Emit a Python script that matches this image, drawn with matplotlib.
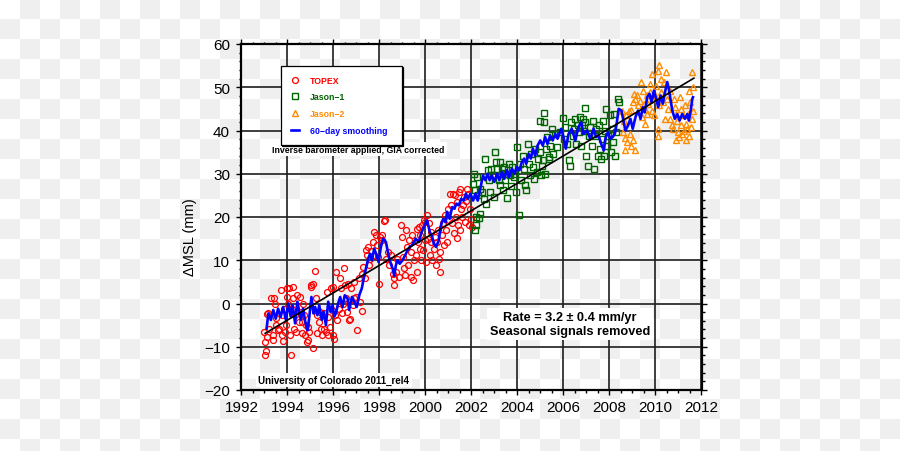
import numpy as np
import matplotlib
matplotlib.use("Agg")
import matplotlib.pyplot as plt
from matplotlib.lines import Line2D

plt.rcParams['font.family'] = ['Liberation Sans', 'DejaVu Sans']

# ---------------- data ----------------
topex_year = [1992.99, 1993.01, 1993.06, 1993.03, 1993.09, 1993.13, 1993.17, 1993.20, 1993.28, 1993.35,
              1993.38, 1993.42, 1993.46, 1993.49, 1993.52, 1993.57, 1993.64, 1993.71, 1993.75, 1993.78,
              1993.81, 1993.86, 1993.90, 1993.93, 1993.96, 1994.00, 1994.04, 1994.07, 1994.12, 1994.14,
              1994.19, 1994.22, 1994.26, 1994.29, 1994.33, 1994.36, 1994.43, 1994.48, 1994.54, 1994.58,
              1994.62, 1994.65, 1994.68, 1994.72, 1994.77, 1994.80, 1994.84, 1994.87, 1994.91, 1994.94,
              1995.01, 1995.04, 1995.09, 1995.13, 1995.20, 1995.23, 1995.28, 1995.30, 1995.35, 1995.41,
              1995.45, 1995.52, 1995.57, 1995.59, 1995.67, 1995.70, 1995.74, 1995.78, 1995.84, 1995.88,
              1995.93, 1995.96, 1995.99, 1996.03, 1996.07, 1996.13, 1996.17, 1996.22, 1996.28, 1996.32,
              1996.36, 1996.42, 1996.46, 1996.51, 1996.54, 1996.58, 1996.62, 1996.68, 1996.72, 1996.77,
              1996.83, 1996.87, 1996.91, 1996.97, 1997.04, 1997.09, 1997.16, 1997.23, 1997.26, 1997.30,
              1997.36, 1997.41, 1997.45, 1997.51, 1997.55, 1997.59, 1997.65, 1997.70, 1997.74, 1997.78,
              1997.84, 1997.88, 1997.94, 1997.99, 1998.03, 1998.09, 1998.13, 1998.20, 1998.25, 1998.28,
              1998.35, 1998.42, 1998.49, 1998.57, 1998.61, 1998.65, 1998.71, 1998.78, 1998.86,
              1998.92, 1998.99, 1999.03, 1999.06, 1999.13, 1999.17, 1999.21, 1999.23, 1999.28, 1999.35,
              1999.38, 1999.42, 1999.47, 1999.49, 1999.57, 1999.61, 1999.64, 1999.67, 1999.71, 1999.75,
              1999.78, 1999.81, 1999.86, 1999.90, 1999.93, 1999.96, 2000.00, 2000.04, 2000.07, 2000.10,
              2000.14, 2000.19, 2000.22, 2000.26, 2000.30, 2000.36, 2000.40, 2000.45, 2000.51, 2000.55,
              2000.59, 2000.63, 2000.65, 2000.72, 2000.77, 2000.79, 2000.84, 2000.88, 2000.94, 2000.98,
              2001.03, 2001.08, 2001.11, 2001.16, 2001.20, 2001.23, 2001.27, 2001.33, 2001.36, 2001.37,
              2001.40, 2001.45, 2001.49, 2001.52, 2001.56, 2001.59, 2001.63, 2001.66, 2001.71, 2001.75,
              2001.81, 2001.85, 2001.89, 2001.95, 2001.98, 2002.02]
topex_msl = [-6.7, -9.0, -11.0, -11.9, -7.7, -2.5, -2.1, -5.8, 1.2, -7.3,
             -8.5, 1.2, 0.0, -5.0, -3.3, -6.2, -5.8, 3.1, -7.3, -2.7,
             -8.7, -1.2, -6.5, -5.0, 1.5, 3.5, 0.0, 3.6, -7.3, -11.9,
             -1.2, 3.8, 1.2, -5.8, -2.7, -6.5, 1.9, -4.2, 1.5, -1.9,
             -6.9, -4.2, 0.0, -2.7, -7.3, -5.0, -8.8, -8.5, -5.4, -6.5,
             4.2, 3.8, 4.6, -10.2, 7.5, 1.2, -2.7, -6.9, -4.2, -1.9,
             -5.8, -7.3, -2.3, -5.8, -6.5, 2.7, -3.1, -7.3, -5.4, 3.5,
             -1.5, 3.8, -7.3, -8.1, -2.7, 7.3, -3.8, -1.2, 5.8, 3.5,
             -2.3, 0.0, 8.2, 4.2, 1.2, -1.9, 4.6, -3.8, -3.5, 3.5,
             -0.4, 1.2, 5.0, 1.5, -6.2, 5.8, 0.4, -1.8, 6.9, 8.5,
             5.8, 12.3, 11.2, 13.1, 8.8, 10.4, 12.1, 14.2, 16.5, 11.2,
             15.8, 13.5, 10.8, 4.6, 15.4, 15.9, 14.6, 19.0, 19.2, 10.4,
             11.9, 8.8, 11.2, 6.9, 4.2, 5.8, 7.3, 10.4, 6.2,
             18.1, 15.4, 10.8, 8.1, 6.5, 16.9, 13.1, 8.8, 14.6, 11.9,
             6.2, 15.8, 5.4, 10.0, 11.2, 17.3, 7.3, 14.2, 17.7, 12.7,
             15.8, 10.0, 18.1, 12.3, 19.2, 14.6, 18.8, 9.6, 20.4, 15.0,
             18.5, 11.2, 14.2, 16.5, 10.0, 12.7, 15.4, 8.8, 14.2, 16.9,
             10.4, 7.2, 11.9, 15.8, 18.5, 13.5, 20.4, 16.9, 14.2, 21.9,
             19.2, 25.4, 22.7, 18.5, 25.4, 16.2, 25.0, 20.0, 15.1, 23.5,
             18.1, 25.8, 26.5, 16.9, 21.9, 20.0, 22.7, 24.6, 18.8, 23.8,
             26.5, 25.4, 18.1, 21.9, 19.6, 17.7]

jason1_year = [2002.10, 2002.24, 2002.07, 2002.17, 2002.36, 2002.27, 2002.21, 2002.38, 2002.18, 2002.15,
               2002.33, 2002.46, 2002.56, 2002.64, 2002.60, 2002.70, 2002.75, 2002.82, 2002.85, 2002.93,
               2002.96, 2003.03, 2003.08, 2003.11, 2003.18, 2003.22, 2003.25, 2003.32, 2003.37, 2003.42,
               2003.47, 2003.51, 2003.54, 2003.61, 2003.66, 2003.71, 2003.77, 2003.83, 2003.90, 2003.95,
               2004.00, 2004.06, 2004.12, 2004.16, 2004.23, 2004.29, 2004.34, 2004.38, 2004.44, 2004.48,
               2004.55, 2004.60, 2004.67, 2004.73, 2004.77, 2004.84, 2004.88, 2004.96, 2004.99, 2005.01,
               2005.06, 2005.13, 2005.16, 2005.17, 2005.20, 2005.23, 2005.27, 2005.35, 2005.37, 2005.42,
               2005.49, 2005.56, 2005.64, 2005.71, 2005.86, 2005.97, 2006.01, 2006.08, 2006.15, 2006.23,
               2006.27, 2006.34, 2006.40, 2006.44, 2006.52, 2006.56, 2006.62, 2006.66, 2006.70, 2006.76,
               2006.80, 2006.85, 2006.91, 2006.92, 2006.95, 2006.99, 2007.05, 2007.09, 2007.17, 2007.24,
               2007.28, 2007.34, 2007.38, 2007.43, 2007.48, 2007.53, 2007.57, 2007.63, 2007.67, 2007.72,
               2007.77, 2007.82, 2007.86, 2007.89, 2007.93, 2008.01, 2008.06, 2008.11, 2008.15, 2008.21,
               2008.25, 2008.30, 2008.35, 2008.40]
jason1_msl = [30.0, 29.2, 27.7, 26.2, 26.5, 25.0, 20.0, 20.8, 18.1, 17.0,
              19.8, 25.8, 24.2, 23.1, 33.3, 30.8, 28.5, 25.8, 31.0, 29.6,
              24.6, 35.0, 32.7, 31.2, 28.5, 32.7, 27.3, 31.2, 26.2, 31.5,
              28.5, 30.0, 24.4, 32.3, 29.6, 27.2, 31.5, 29.2, 30.0, 25.8,
              36.2, 20.5, 32.3, 28.5, 34.2, 31.2, 27.3, 26.2, 36.9, 32.3,
              29.6, 34.6, 31.5, 28.8, 35.8, 30.4, 33.5, 35.0, 42.3, 29.6,
              31.9, 33.1, 44.1, 41.9, 30.0, 35.8, 38.5, 33.5, 33.8, 36.5,
              40.4, 34.6, 39.2, 36.2, 39.6, 42.9, 38.1, 40.8, 36.9, 33.1,
              31.9, 41.9, 38.8, 40.4, 42.7, 36.9, 41.2, 39.6, 43.1, 36.5,
              41.2, 42.7, 40.0, 45.2, 41.9, 34.2, 31.9, 38.8, 40.8, 36.5,
              42.3, 31.2, 38.8, 40.4, 34.2, 41.2, 35.8, 33.5, 38.1, 42.3,
              34.2, 40.0, 45.0, 36.5, 38.8, 43.5, 35.0, 40.4, 37.3, 43.8,
              34.2, 39.6, 47.3, 46.7]

jason2_year = [2008.55, 2008.57, 2008.62, 2008.66, 2008.69, 2008.72, 2008.76, 2008.84, 2008.91, 2008.95,
               2008.95, 2009.01, 2009.01, 2009.07, 2009.10, 2009.13, 2009.20, 2009.24, 2009.32, 2009.36,
               2009.42, 2009.45, 2009.49, 2009.53, 2009.56, 2009.61, 2009.64, 2009.68, 2009.74, 2009.78,
               2009.83, 2009.85, 2009.88, 2009.93, 2009.97, 2010.03, 2010.09, 2010.12, 2010.12, 2010.15,
               2010.17, 2010.22, 2010.26, 2010.32, 2010.36, 2010.41, 2010.47, 2010.51, 2010.55, 2010.61,
               2010.65, 2010.70, 2010.76, 2010.80, 2010.84, 2010.90, 2010.90, 2010.95, 2010.99, 2011.02,
               2011.05, 2011.09, 2011.13, 2011.16, 2011.21, 2011.24, 2011.28, 2011.31, 2011.34, 2011.38,
               2011.43, 2011.45, 2011.45, 2011.48, 2011.53, 2011.57, 2011.60, 2011.64, 2011.65]
jason2_msl = [44.6, 39.6, 42.3, 38.2, 35.4, 43.5, 37.3, 44.6, 39.2, 44.8,
              36.5, 37.9, 46.5, 48.5, 35.4, 47.3, 48.1, 45.8, 46.9, 51.2,
              43.1, 49.2, 46.2, 45.0, 41.5, 48.1, 43.8, 46.2, 48.8, 50.8,
              44.6, 53.1, 47.3, 43.5, 48.1, 50.4, 40.4, 53.8, 38.7, 45.8,
              55.2, 48.8, 51.9, 46.5, 51.2, 42.7, 53.5, 47.3, 45.0, 49.2,
              42.7, 41.2, 40.4, 47.3, 45.4, 43.8, 37.9, 42.3, 39.6, 38.5,
              47.7, 41.2, 45.0, 39.2, 43.5, 40.0, 45.8, 41.5, 37.7, 40.4,
              43.8, 49.2, 38.8, 46.5, 40.8, 42.7, 53.6, 44.6, 50.0]

smooth_year = [1993.09, 1993.17, 1993.28, 1993.38, 1993.49, 1993.59, 1993.70, 1993.81, 1993.93, 1994.04,
               1994.14, 1994.22, 1994.33, 1994.43, 1994.51, 1994.58, 1994.68, 1994.77, 1994.87, 1994.94,
               1995.04, 1995.13, 1995.20, 1995.30, 1995.38, 1995.49, 1995.57, 1995.67, 1995.77, 1995.88,
               1995.96, 1996.03, 1996.10, 1996.20, 1996.29, 1996.39, 1996.49, 1996.61, 1996.68, 1996.80,
               1996.90, 1997.01, 1997.12, 1997.23, 1997.33, 1997.41, 1997.51, 1997.59, 1997.67, 1997.77,
               1997.87, 1997.96, 1998.06, 1998.16, 1998.28, 1998.39, 1998.49, 1998.57, 1998.64, 1998.71,
               1998.78, 1998.88, 1999.00, 1999.12, 1999.22, 1999.32, 1999.42, 1999.57, 1999.71, 1999.81,
               1999.93, 2000.07, 2000.19, 2000.29, 2000.36, 2000.46, 2000.58, 2000.65, 2000.77, 2000.87,
               2000.94, 2001.05, 2001.16, 2001.26, 2001.34, 2001.45, 2001.55, 2001.66, 2001.76, 2001.85,
               2001.95, 2002.07, 2002.17, 2002.27, 2002.38, 2002.50, 2002.60, 2002.70, 2002.79, 2002.89,
               2002.99, 2003.11, 2003.21, 2003.32, 2003.42, 2003.54, 2003.64, 2003.76, 2003.86, 2003.97,
               2004.08, 2004.19, 2004.29, 2004.38, 2004.48, 2004.58, 2004.67, 2004.77, 2004.87, 2004.99,
               2005.10, 2005.20, 2005.30, 2005.42, 2005.53, 2005.64, 2005.74, 2005.90, 2006.00, 2006.10,
               2006.22, 2006.36, 2006.51, 2006.65, 2006.77, 2006.87, 2007.02, 2007.16, 2007.31, 2007.41,
               2007.53, 2007.64, 2007.75, 2007.82, 2007.93, 2008.04, 2008.14, 2008.23, 2008.30, 2008.40,
               2008.52, 2008.62, 2008.69, 2008.81, 2008.91, 2009.01, 2009.13, 2009.24, 2009.35, 2009.45,
               2009.53, 2009.64, 2009.74, 2009.83, 2009.93, 2010.03, 2010.12, 2010.22, 2010.32, 2010.41,
               2010.51, 2010.58, 2010.65, 2010.73, 2010.84, 2010.95, 2011.05, 2011.16, 2011.28, 2011.38,
               2011.45, 2011.53, 2011.60, 2011.63]
smooth_msl = [-5.8, -2.3, -3.8, -1.5, -3.5, -1.2, -3.1, -0.8, -3.8, 0.0,
              -3.0, -0.4, -4.6, 0.4, -1.9, -3.8, -1.2, -4.2, -6.2, -3.5,
              1.5, -2.3, -0.8, -2.7, -0.4, -3.8, -1.9, -5.0, 0.4, -1.9,
              -0.4, -3.0, -2.3, 0.0, 1.5, -0.8, 1.9, 1.2, -1.5, 1.5,
              0.4, -0.8, 1.9, 3.5, 6.2, 8.1, 10.4, 11.5, 10.0, 12.7,
              11.2, 9.6, 13.1, 15.0, 14.2, 11.2, 9.2, 8.1, 6.4, 8.8,
              10.0, 9.2, 10.0, 11.2, 12.3, 13.1, 13.5, 15.0, 14.2, 16.2,
              17.7, 19.2, 16.5, 15.4, 13.8, 13.1, 14.6, 17.7, 19.6, 18.8,
              21.2, 19.6, 22.3, 21.9, 23.1, 22.7, 24.2, 23.8, 25.4, 24.2,
              25.4, 23.8, 25.4, 23.8, 26.5, 29.6, 28.5, 30.0, 28.5, 29.6,
              28.1, 30.0, 28.5, 30.4, 28.8, 30.8, 29.2, 31.2, 30.0, 31.5,
              30.8, 32.7, 33.5, 32.3, 34.6, 33.5, 35.8, 34.2, 36.5, 37.7,
              36.5, 38.5, 36.9, 38.8, 37.7, 39.2, 38.1, 40.4, 38.5, 35.8,
              39.2, 40.4, 37.7, 40.8, 41.9, 39.2, 40.0, 38.1, 40.4, 38.5,
              38.8, 36.9, 35.4, 38.1, 39.6, 38.1, 38.5, 39.2, 41.2, 45.0,
              44.6, 41.9, 40.0, 41.2, 42.7, 40.4, 43.1, 44.6, 42.7, 45.4,
              44.2, 47.7, 48.5, 46.5, 49.2, 47.3, 45.4, 48.1, 46.2, 48.8,
              51.2, 49.6, 47.3, 44.6, 42.7, 43.8, 42.3, 43.8, 42.7, 43.8,
              42.3, 44.6, 47.3, 47.7]

trend_year = [1993.03, 2011.67]
trend_msl = [-6.9, 52.1]

x_ticks = [1992, 1994, 1996, 1998, 2000, 2002, 2004, 2006, 2008, 2010, 2012]
y_ticks = [-20, -10, 0, 10, 20, 30, 40, 50, 60]

# ---------------- figure ----------------
W, H = 900, 452
fig = plt.figure(figsize=(W / 100, H / 100), dpi=100)

# transparency checkerboard baked into the reference
idx = np.indices((H, W)) // 20
checker = ((idx[0] + idx[1]) % 2).astype(float)
bg = np.where(checker[..., None] > 0, 239 / 255, 1.0) * np.ones((H, W, 3))
fig.figimage(bg, xo=0, yo=0, origin='upper', zorder=-10)

ax = fig.add_axes([241.5 / W, 1 - 391 / H, 460 / W, 346 / H])
ax.set_zorder(2)
ax.set_facecolor('none')
ax.set_xlim(1992, 2012)
ax.set_ylim(-20, 60)
ax.set_xticks(x_ticks)
ax.set_yticks(y_ticks)
ax.set_xticks(np.arange(1992, 2012.01, 0.5), minor=True)
ax.set_yticks(np.arange(-20, 60.01, 2), minor=True)
ax.tick_params(which='both', direction='out', top=True, right=True, width=1.0, color='black')
ax.tick_params(which='major', length=3.8, labelsize=11, pad=3.5)
ax.tick_params(which='minor', length=1.8)
ax.tick_params(axis='y', which='major', pad=4.5)
for s in ax.spines.values():
    s.set_linewidth(1.6)
ax.grid(True, which='major', color='#1e1e1e', linewidth=1.2)
ax.set_axisbelow(True)

ax.plot(topex_year, topex_msl, ls='none', marker='o', ms=4.3, mfc='none', mec='#ff0000', mew=0.9, zorder=3)
ax.plot(jason1_year, jason1_msl, ls='none', marker='s', ms=3.8, mfc='none', mec='#006400', mew=1.0, zorder=3)
ax.plot(jason2_year, jason2_msl, ls='none', marker='^', ms=4.9, mfc='none', mec='#ff8c00', mew=1.0, zorder=3)
ax.plot(smooth_year, smooth_msl, color='#0000ff', lw=1.9, zorder=4)
ax.plot(trend_year, trend_msl, color='black', lw=1.2, zorder=5)

fig.text(190 / W, 1 - 237 / H, 'ΔMSL (mm)', rotation=90, ha='center', va='center', fontsize=10.5, zorder=3)

handles = [
    Line2D([], [], ls='none', marker='o', ms=4.3, mfc='none', mec='#ff0000', mew=0.9),
    Line2D([], [], ls='none', marker='s', ms=3.8, mfc='none', mec='#006400', mew=1.0),
    Line2D([], [], ls='none', marker='^', ms=4.9, mfc='none', mec='#ff8c00', mew=1.0),
    Line2D([], [], color='#0000ff', lw=1.9),
]
labels = ['TOPEX', 'Jason\u22121', 'Jason\u22122', '60\u2212day smoothing']
leg = ax.legend(handles, labels, loc='upper left',
                bbox_to_anchor=(281 / W, 1 - 142 / H, 121 / W, 75 / H),
                bbox_transform=fig.transFigure, mode='expand', borderaxespad=0,
                prop={'weight': 'bold', 'size': 6.3}, frameon=True, fancybox=False,
                edgecolor='black', framealpha=1, handlelength=1.0, handletextpad=1.25,
                borderpad=1.1, labelspacing=0.9,
                shadow={'ox': 1.0, 'oy': -1.0, 'color': 'black', 'alpha': 1})
leg.set_zorder(10)
leg.get_frame().set_linewidth(0.9)
for t, c in zip(leg.get_texts(), ['#ff0000', '#006400', '#ff8c00', '#0000ff']):
    t.set_color(c)

box = dict(facecolor='white', edgecolor='none', pad=1.5)
ax.text(1997.08, 35.7, 'Inverse barometer applied, GIA corrected', ha='center', va='center',
        fontsize=6.3, fontweight='bold', bbox=box, zorder=6)
ax.text(1996.02, -17.7, 'University of Colorado 2011_rel4', ha='center', va='center',
        fontsize=7.0, fontweight='bold', bbox=box, zorder=6)
ax.text(2006.28, -4.7, 'Rate = 3.2 \u00b1 0.4 mm/yr\nSeasonal signals removed', ha='center', va='center',
        fontsize=9.2, fontweight='bold', linespacing=1.2, bbox=dict(facecolor='white', edgecolor='none', pad=2),
        zorder=6)

fig.savefig('out.png', dpi=100)
